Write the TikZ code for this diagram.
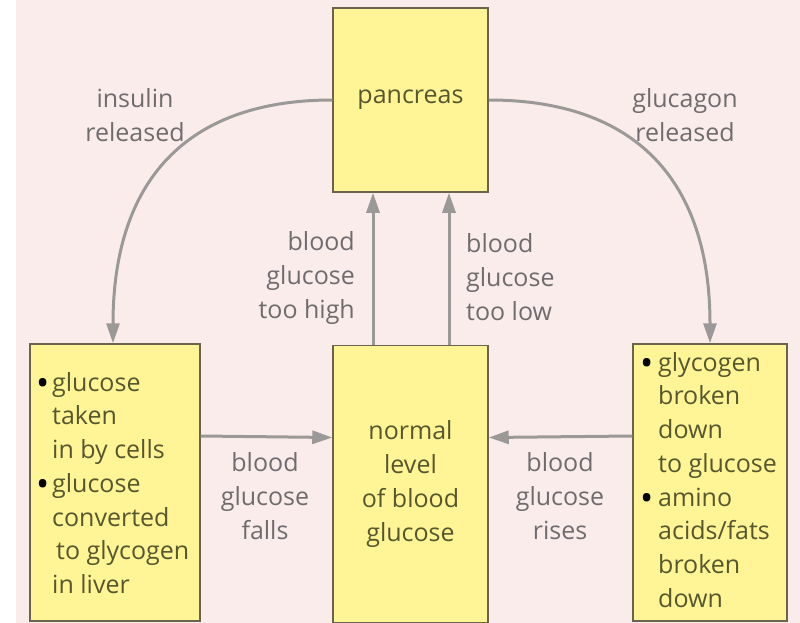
\documentclass[tikz,border=0pt]{standalone}
\usepackage{fontspec}
\setmainfont{Open Sans}
\usetikzlibrary{arrows.meta}
\definecolor{bgpink}{RGB}{250,236,235}
\definecolor{boxyellow}{RGB}{255,244,150}
\definecolor{boxline}{RGB}{105,100,75}
\definecolor{boxtext}{RGB}{88,86,45}
\definecolor{labgray}{RGB}{112,108,110}
\definecolor{arrgray}{RGB}{155,152,152}
\newcommand\bxfont{\fontsize{25}{33.7}\selectfont}
\newcommand\bdot{\textcolor{black}{\raisebox{-4.5pt}{\scalebox{1.4}{\textbullet}}}}
\newcommand\blt{\makebox[16pt][l]{\bdot}}
\newcommand\ind{\hspace*{16pt}}
\newcommand\rblt{\makebox[18pt][l]{\bdot}}
\newcommand\rind{\hspace*{18pt}}
\begin{document}
\begin{tikzpicture}[x=1pt,y=-1pt,
 box/.style={draw=boxline, line width=1.5pt, fill=boxyellow, inner sep=0pt, text=boxtext, font=\bxfont, align=center},
 boxtxt/.style={text=boxtext, font=\bxfont, inner sep=0pt, align=left, anchor=north west},
 lab/.style={text=labgray, font=\bxfont, inner sep=0pt},
 arr/.style={draw=arrgray, line width=3pt, -{Triangle[length=20pt,width=13pt]}},
]
\useasboundingbox (0,0) rectangle (800,623);
\fill[white] (0,0) rectangle (800,623);
\fill[bgpink] (16,0) rectangle (800,623);

\node[box, minimum width=155pt, minimum height=184pt] (pan) at (410.5,100) {pancreas};
\node[box, minimum width=155pt, minimum height=277pt] (mid) at (410.5,484) {normal\\level\\of blood\\glucose};
\node[box, minimum width=170pt, minimum height=277pt] (lft) at (115,482.5) {};
\node[box, minimum width=154pt, minimum height=277pt] (rgt) at (710,482.5) {};

\node[boxtxt] (lfttxt) at (36,372) {\blt glucose\\\ind taken\\\ind in by cells\\\blt glucose\\\ind converted\\\ind\hspace*{4pt}to glycogen\\\ind in liver};
\node[boxtxt] (rgttxt) at (640,352) {\rblt glycogen\\\rind broken\\\rind down\\\rind to glucose\\\rblt amino\\\rind acids/fats\\\rind broken\\\rind down};

\node[lab, align=center] (ins) at (135,115) {insulin\\released};
\node[lab, align=center] (glu) at (685,115) {glucagon\\released};
\node[lab, align=right, anchor=east] (high) at (355,278) {blood\\glucose\\too high};
\node[lab, align=left, anchor=west] (low) at (466,277) {blood\\glucose\\too low};
\node[lab, align=center] (falls) at (265,496) {blood\\glucose\\falls};
\node[lab, align=center] (rises) at (560,496) {blood\\glucose\\rises};

\draw[arr] (pan.west) .. controls (186,100) and (113,181) .. ([xshift=-2pt]lft.north);
\draw[arr] (pan.east) .. controls (636,100) and (710,181) .. (rgt.north);
\draw[arr] ([xshift=-37.5pt]mid.north) -- ([xshift=-37.5pt]pan.south);
\draw[arr] ([xshift=38.5pt]mid.north) -- ([xshift=38.5pt]pan.south);
\draw[arr] ([yshift=46.5pt]lft.east) -- ([yshift=46.5pt]mid.west);
\draw[arr] ([yshift=46.5pt]rgt.west) -- ([yshift=46.5pt]mid.east);
\end{tikzpicture}
\end{document}
